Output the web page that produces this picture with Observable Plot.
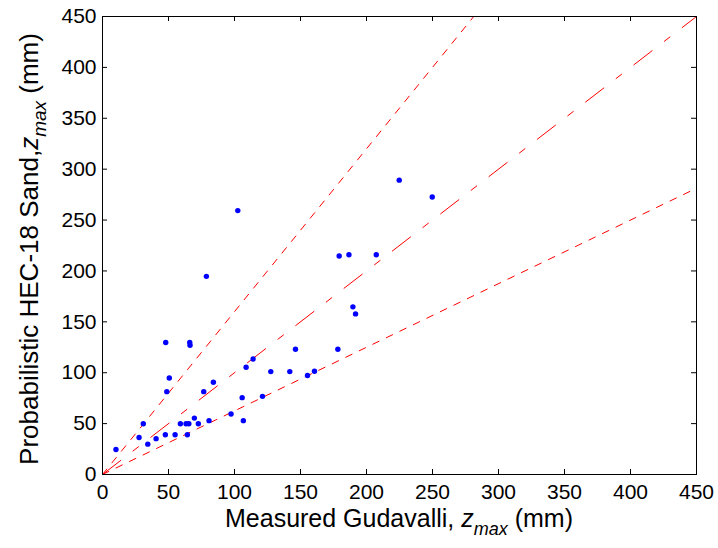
<!DOCTYPE html>
<html><head><meta charset="utf-8">
<script src="https://cdn.jsdelivr.net/npm/d3@7"></script>
<script src="https://cdn.jsdelivr.net/npm/@observablehq/plot@0.6"></script>
<style>body{margin:0;background:#fff} svg{display:block}</style>
</head><body><div id="chart"></div>
<script>
// Measured Gudavalli z_max (mm)
const measured = [10.2, 27.7, 30.9, 34.3, 40.6, 47.6, 47.9, 48.7, 50.6, 55.0,
  59.0, 63.3, 65.4, 64.3, 66.1, 66.3, 69.6, 72.6, 76.7, 80.7,
  84.0, 97.4, 105.8, 106.7, 108.8, 114.1, 121.2, 127.5, 141.9, 146.2,
  102.5, 78.7, 224.8, 249.8, 179.3, 186.7, 207.4, 189.7, 191.7, 178.3,
  155.3, 160.6];
// Probabilistic HEC-18 Sand z_max (mm)
const predicted = [24.6, 36.4, 49.9, 29.8, 35.2, 39.1, 129.7, 81.4, 94.8, 39.1,
  49.9, 49.9, 49.9, 39.1, 129.7, 127.0, 55.4, 49.9, 81.4, 52.9,
  90.6, 59.4, 75.5, 52.9, 105.4, 113.5, 76.8, 101.1, 101.1, 123.1,
  259.3, 194.7, 289.2, 272.7, 214.7, 215.9, 215.9, 164.7, 157.8, 123.1,
  97.2, 101.4];
// Reference lines (end points)
const upperX = [0, 281.25], upperY = [0, 450];
const equalX = [0, 450],    equalY = [0, 450];
const lowerX = [0, 450],    lowerY = [0, 281.25];
const xTicks = [0, 50, 100, 150, 200, 250, 300, 350, 400, 450];
const yTicks = [0, 50, 100, 150, 200, 250, 300, 350, 400, 450];

const W = 718, H = 548, mL = 102, mR = 22, mT = 16, mB = 74;
const innerW = W - mL - mR, innerH = H - mT - mB;
const font = "'Liberation Sans', Arial, Helvetica, sans-serif";

const svg = Plot.plot({
  width: W, height: H,
  marginLeft: mL, marginRight: mR, marginTop: mT, marginBottom: mB,
  style: {fontFamily: font, fontSize: "21px", color: "black", background: "white", overflow: "visible"},
  x: {domain: [0, 450]},
  y: {domain: [0, 450]},
  marks: [
    Plot.axisX({ticks: xTicks, anchor: "bottom", tickSize: 0, tickPadding: 10, label: null, fontSize: 21}),
    Plot.axisY({ticks: yTicks, anchor: "left", tickSize: 0, tickPadding: 6, label: null, fontSize: 21}),
    Plot.ruleX(xTicks, {x: d => d, insetTop: innerH - 5, stroke: "black"}),
    Plot.ruleX(xTicks, {x: d => d, insetBottom: innerH - 5, stroke: "black"}),
    Plot.ruleY(yTicks, {y: d => d, insetRight: innerW - 5, stroke: "black"}),
    Plot.ruleY(yTicks, {y: d => d, insetLeft: innerW - 5, stroke: "black"}),
    Plot.line(upperY, {x: upperX, y: upperY, stroke: "#ff0000", strokeWidth: 1, strokeDasharray: "7,8"}),
    Plot.line(equalY, {x: equalX, y: equalY, stroke: "#ff0000", strokeWidth: 1, strokeDasharray: "23,15.5,7,15.5"}),
    Plot.line(lowerY, {x: lowerX, y: lowerY, stroke: "#ff0000", strokeWidth: 1, strokeDasharray: "7,8"}),
    Plot.dot(measured, {x: measured, y: predicted, r: 2.7, fill: "#0000ff", stroke: null}),
    Plot.frame({stroke: "black", strokeWidth: 1})
  ]
});

const s = d3.select(svg);
// x axis label
const xl = s.append("text")
  .attr("x", mL + innerW / 2).attr("y", 527)
  .attr("text-anchor", "middle")
  .attr("font-family", font).attr("font-size", 25).attr("fill", "black");
xl.append("tspan").text("Measured Gudavalli, ");
xl.append("tspan").attr("font-style", "italic").text("z");
xl.append("tspan").attr("font-style", "italic").attr("font-size", 18).attr("dy", 8).text("max");
xl.append("tspan").attr("dy", -8).text(" (mm)");

// y axis label
const yl = s.append("text")
  .attr("transform", `translate(38,${mT + innerH / 2 + 4}) rotate(-90)`)
  .attr("text-anchor", "middle")
  .attr("font-family", font).attr("font-size", 26).attr("fill", "black");
yl.append("tspan").text("Probabilistic HEC-18 Sand,");
yl.append("tspan").attr("font-style", "italic").text("z");
yl.append("tspan").attr("font-style", "italic").attr("font-size", 19).attr("dy", 8).text("max");
yl.append("tspan").attr("dy", -8).text(" (mm)");

document.getElementById("chart").appendChild(svg);
</script>
</body></html>
